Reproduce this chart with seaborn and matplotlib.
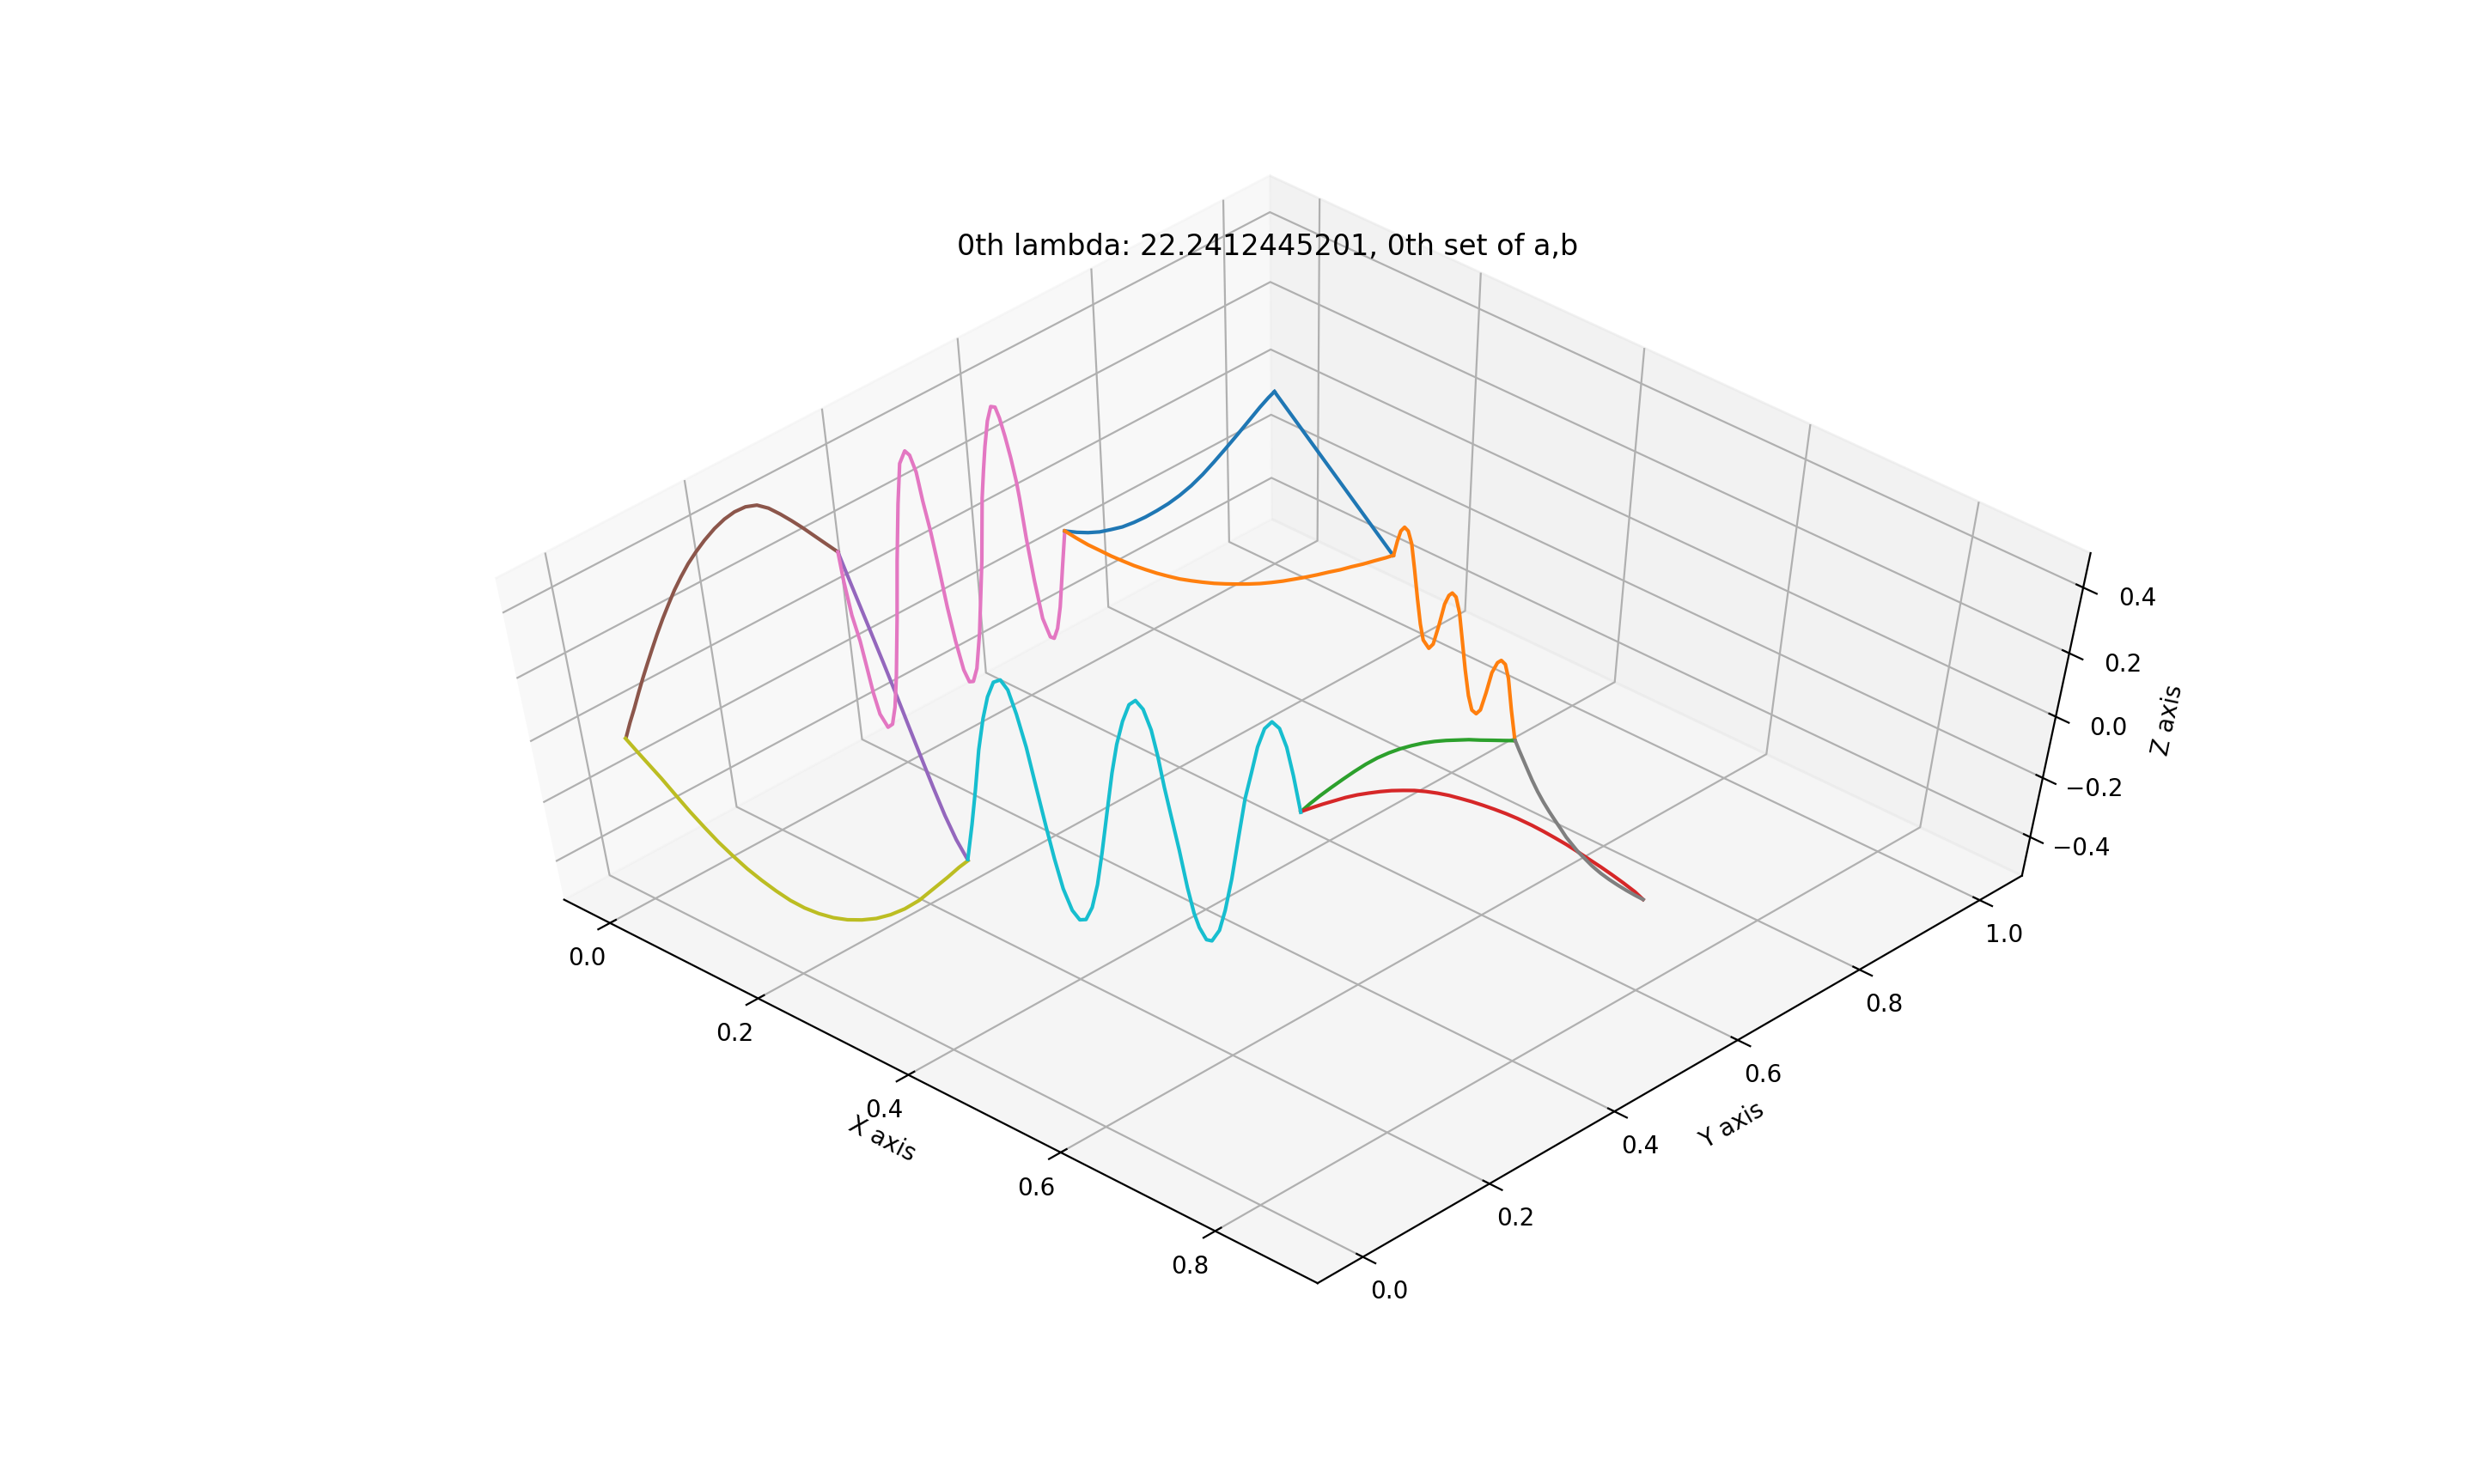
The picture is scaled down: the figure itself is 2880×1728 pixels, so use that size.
import numpy as np
import matplotlib
matplotlib.use('Agg')
import matplotlib.pyplot as plt
import seaborn as sns

# graph vertices in the xy plane
node_x = dict(A=-0.0011, B=0.3763, C=-0.0968, D=0.0320, E=0.2864, F=0.5969, G=0.5394, H=0.8695, P=-0.0047)
node_y = dict(A=0.0020, B=0.0732, C=0.4334, D=0.6317, E=0.8370, F=0.6422, G=0.3819, H=0.4986, P=1.0064)

# position along each edge (0 to 1) and eigenfunction value
t_pe = [0.000, 0.389, 1.000]
z_pe = [0.000, 0.000, 0.000]
t_ef = [0.004, 0.031, 0.056, 0.085, 0.115, 0.145, 0.174, 0.204, 0.234, 0.261, 0.308, 0.341, 0.380, 0.418, 0.448, 0.473, 0.503, 0.534, 0.566, 0.598, 0.632, 0.663, 0.698, 0.729, 0.765, 0.800, 0.838, 0.865, 0.896, 0.925, 0.960, 1.000]
z_ef = [0.003, 0.062, 0.107, 0.135, 0.140, 0.118, 0.055, -0.018, -0.082, -0.117, -0.116, -0.083, -0.001, 0.088, 0.132, 0.154, 0.159, 0.129, 0.058, -0.014, -0.076, -0.104, -0.095, -0.064, 0.013, 0.097, 0.151, 0.174, 0.180, 0.153, 0.075, 0.001]
t_fg = [0.001, 0.056, 0.110, 0.165, 0.220, 0.274, 0.328, 0.381, 0.435, 0.488, 0.541, 0.594, 0.647, 0.700, 0.752, 0.805, 0.858, 0.911, 0.957, 0.999]
z_fg = [0.001, 0.014, 0.027, 0.040, 0.054, 0.065, 0.076, 0.085, 0.092, 0.096, 0.098, 0.097, 0.093, 0.085, 0.074, 0.061, 0.047, 0.032, 0.017, 0.001]
t_gh = [0.000, 0.031, 0.065, 0.098, 0.131, 0.165, 0.198, 0.231, 0.263, 0.296, 0.329, 0.362, 0.395, 0.428, 0.461, 0.494, 0.527, 0.560, 0.593, 0.626, 0.668, 0.702, 0.735, 0.769, 0.803, 0.837, 0.872, 0.906, 0.940, 0.975, 1.000]
z_gh = [0.001, 0.022, 0.044, 0.064, 0.084, 0.102, 0.117, 0.131, 0.143, 0.153, 0.162, 0.168, 0.172, 0.174, 0.1735, 0.1725, 0.170, 0.1665, 0.162, 0.156, 0.146, 0.136, 0.125, 0.113, 0.099, 0.084, 0.069, 0.053, 0.036, 0.017, -0.001]
t_cb = [0.000, 0.056, 0.120, 0.185, 0.252, 0.303, 0.354, 0.404, 0.455, 0.499, 0.539, 0.600, 0.666, 0.731, 0.818, 0.907, 1.000]
z_cb = [0.000, -0.003, -0.005, -0.007, -0.009, -0.011, -0.013, -0.016, -0.019, -0.023, -0.027, -0.032, -0.037, -0.041, -0.042, -0.030, 0.000]
t_ac = [0.001, 0.027, 0.054, 0.083, 0.110, 0.138, 0.169, 0.198, 0.232, 0.265, 0.297, 0.332, 0.369, 0.407, 0.449, 0.497, 0.543, 0.588, 0.636, 0.684, 0.730, 0.775, 0.819, 0.864, 0.908, 0.953, 1.000]
z_ac = [0.005, 0.036, 0.064, 0.097, 0.126, 0.154, 0.184, 0.211, 0.240, 0.265, 0.288, 0.308, 0.326, 0.339, 0.350, 0.358, 0.360, 0.356, 0.344, 0.322, 0.287, 0.244, 0.199, 0.151, 0.102, 0.052, 0.000]
t_cd = [0.000, 0.010, 0.028, 0.051, 0.067, 0.083, 0.102, 0.132, 0.154, 0.174, 0.196, 0.227, 0.254, 0.284, 0.309, 0.336, 0.355, 0.376, 0.392, 0.414, 0.435, 0.455, 0.478, 0.503, 0.524, 0.542, 0.563, 0.589, 0.626, 0.650, 0.666, 0.680, 0.699, 0.718, 0.736, 0.751, 0.769, 0.787, 0.804, 0.812, 0.829, 0.852, 0.877, 0.906, 0.923, 0.941, 0.959, 0.979, 1.000]
z_cd = [0.000, -0.092, -0.203, -0.288, -0.374, -0.462, -0.535, -0.582, -0.573, -0.516, -0.411, -0.225, -0.045, 0.130, 0.250, 0.286, 0.272, 0.220, 0.132, 0.034, -0.083, -0.203, -0.316, -0.413, -0.454, -0.454, -0.412, -0.296, -0.068, 0.125, 0.210, 0.278, 0.352, 0.393, 0.390, 0.358, 0.302, 0.237, 0.163, 0.115, -0.010, -0.146, -0.268, -0.330, -0.336, -0.305, -0.236, -0.118, 0.002]
t_fh = [0.003, 0.035, 0.071, 0.107, 0.144, 0.191, 0.238, 0.285, 0.331, 0.377, 0.423, 0.468, 0.513, 0.569, 0.624, 0.689, 0.753, 0.817, 0.880, 0.942, 1.000]
z_fh = [0.002, -0.012, -0.026, -0.040, -0.054, -0.068, -0.078, -0.085, -0.090, -0.094, -0.099, -0.099, -0.099, -0.094, -0.089, -0.079, -0.066, -0.051, -0.035, -0.018, -0.001]
t_ab = [-0.002, 0.027, 0.056, 0.089, 0.125, 0.161, 0.199, 0.236, 0.275, 0.314, 0.354, 0.395, 0.436, 0.478, 0.521, 0.565, 0.609, 0.654, 0.700, 0.746, 0.792, 0.840, 0.887, 0.934, 0.972, 1.000]
z_ab = [0.001, -0.030, -0.060, -0.094, -0.135, -0.175, -0.213, -0.248, -0.279, -0.307, -0.330, -0.350, -0.366, -0.375, -0.377, -0.373, -0.362, -0.344, -0.320, -0.288, -0.249, -0.200, -0.142, -0.084, -0.035, -0.002]
t_bg = [0.000, 0.022, 0.041, 0.061, 0.081, 0.099, 0.119, 0.139, 0.158, 0.177, 0.198, 0.218, 0.239, 0.257, 0.277, 0.300, 0.321, 0.340, 0.361, 0.381, 0.400, 0.421, 0.442, 0.460, 0.480, 0.501, 0.520, 0.541, 0.562, 0.578, 0.594, 0.611, 0.632, 0.653, 0.671, 0.686, 0.707, 0.724, 0.748, 0.767, 0.789, 0.811, 0.833, 0.853, 0.872, 0.893, 0.915, 0.937, 0.958, 0.978, 1.000]
z_bg = [0.002, 0.113, 0.220, 0.343, 0.436, 0.499, 0.540, 0.544, 0.511, 0.435, 0.330, 0.202, 0.070, -0.037, -0.140, -0.217, -0.253, -0.255, -0.217, -0.143, -0.040, 0.087, 0.212, 0.299, 0.367, 0.415, 0.425, 0.395, 0.328, 0.245, 0.143, 0.048, -0.068, -0.196, -0.287, -0.339, -0.385, -0.392, -0.359, -0.293, -0.189, -0.058, 0.069, 0.149, 0.228, 0.282, 0.300, 0.276, 0.214, 0.120, -0.001]
t_dp = [0.000, 0.054, 0.106, 0.159, 0.212, 0.265, 0.320, 0.374, 0.429, 0.484, 0.539, 0.595, 0.651, 0.706, 0.762, 0.818, 0.874, 0.929, 0.971, 1.000]
z_dp = [0.002, -0.026, -0.050, -0.071, -0.087, -0.102, -0.112, -0.119, -0.123, -0.125, -0.123, -0.117, -0.106, -0.091, -0.074, -0.056, -0.037, -0.018, -0.006, 0.000]
t_de = [0.000, 0.035, 0.069, 0.104, 0.138, 0.173, 0.207, 0.242, 0.277, 0.312, 0.347, 0.382, 0.417, 0.453, 0.488, 0.523, 0.559, 0.594, 0.629, 0.664, 0.700, 0.735, 0.770, 0.805, 0.840, 0.874, 0.909, 0.944, 0.978, 1.000]
z_de = [0.002, -0.018, -0.036, -0.051, -0.066, -0.079, -0.091, -0.101, -0.110, -0.117, -0.123, -0.126, -0.128, -0.129, -0.128, -0.126, -0.123, -0.119, -0.113, -0.106, -0.097, -0.088, -0.078, -0.067, -0.057, -0.045, -0.034, -0.021, -0.009, 0.000]

x_ticks = [0, 0.2, 0.4, 0.6, 0.8]
y_ticks = [0, 0.2, 0.4, 0.6, 0.8, 1.0]
z_ticks = [-0.4, -0.2, 0, 0.2, 0.4]

edges = [('P', 'E', t_pe, z_pe), ('E', 'F', t_ef, z_ef), ('F', 'G', t_fg, z_fg), ('G', 'H', t_gh, z_gh),
         ('C', 'B', t_cb, z_cb), ('A', 'C', t_ac, z_ac), ('C', 'D', t_cd, z_cd), ('F', 'H', t_fh, z_fh),
         ('A', 'B', t_ab, z_ab), ('B', 'G', t_bg, z_bg), ('D', 'P', t_dp, z_dp), ('D', 'E', t_de, z_de)]

sns.set_palette('tab10')

fig = plt.figure(figsize=(14.4, 8.64), dpi=200)
ax = fig.add_subplot(111, projection='3d')
# keep the axes box stretched over the whole subplot area
ax.apply_aspect = lambda position=None: None
ax.set_box_aspect((1, 1, 1), zoom=1.04 / 1.1003)
ax.view_init(elev=60, azim=-46.8)

for a, b, t, z in edges:
    t = np.array(t)
    x = node_x[a] + t * (node_x[b] - node_x[a])
    y = node_y[a] + t * (node_y[b] - node_y[a])
    ax.plot(x, y, z)

ax.set_xlim(-0.0625, 0.931)
ax.set_ylim(-0.071, 1.071)
ax.set_zlim(-0.534, 0.502)
ax.set_xticks(x_ticks)
ax.set_yticks(y_ticks)
ax.set_zticks(z_ticks)
ax.set_xlabel('X axis')
ax.set_ylabel('Y axis')
ax.set_zlabel('Z axis')
ax.set_title('0th lambda: 22.2412445201, 0th set of a,b', y=1.0)

plt.savefig('out.png')
plt.close()
